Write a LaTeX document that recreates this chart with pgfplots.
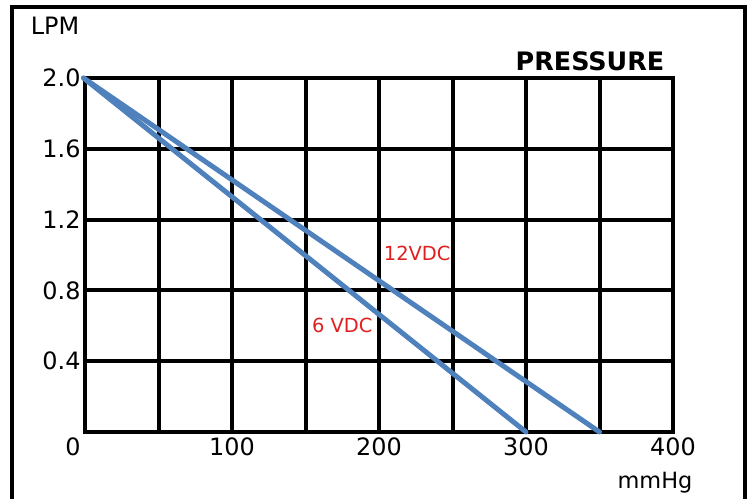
\documentclass[border=0pt]{standalone}
\usepackage{fontspec}
\setmainfont{DejaVu Sans}
\usepackage{pgfplots}
\pgfplotsset{compat=1.18}
\definecolor{lineblue}{HTML}{4F81BD}
\definecolor{labred}{HTML}{E02020}
\begin{document}
\begin{tikzpicture}
\clip (-85bp,-67bp) rectangle (666bp,432bp);
\fill[white] (-85bp,-67bp) rectangle (666bp,432bp);
\draw[line width=4.5bp] (-73bp,-100bp) -- (-73bp,425bp) -- (660bp,425bp) -- (660bp,-100bp);
\begin{axis}[
  at={(0,0)}, anchor=south west,
  scale only axis, width=588bp, height=354bp,
  xmin=0, xmax=400, ymin=0, ymax=2,
  /pgf/number format/assume math mode=true,
  axis line style={line width=4bp, black},
  grid=major, grid style={black, line width=4bp},
  major tick length=0pt,
  xtick={50,100,...,400},
  xticklabels={,100,,200,,300,,400},
  extra x ticks={0}, extra x tick labels={0},
  extra x tick style={grid=none, xticklabel style={xshift=-12bp}},
  ytick={0.4,0.8,1.2,1.6,2.0},
  yticklabels={0.4,0.8,1.2,1.6,2.0},
  tick label style={font=\fontsize{24}{27}\selectfont},
  xticklabel style={yshift=-2bp},
  yticklabel style={xshift=-1bp},
  clip=false,
]
\addplot[lineblue, line width=5bp, line cap=round] coordinates {(-1,2.0) (350,0)};
\addplot[lineblue, line width=5bp, line cap=round] coordinates {(-1,2.0) (300,0)};
\node[labred, font=\fontsize{19.5}{22}\selectfont] at (axis cs:226,1.01) {12VDC};
\node[labred, font=\fontsize{19.5}{22}\selectfont] at (axis cs:175,0.60) {6 VDC};
\end{axis}
\node[font=\fontsize{24}{27}\selectfont] at (-30bp,406bp) {LPM};
\node[font=\fontsize{25.5}{28}\selectfont\bfseries] at (505bp,371bp) {PRESSURE};
\node[font=\fontsize{22.5}{26}\selectfont] at (570bp,-51bp) {mmHg};
\end{tikzpicture}
\end{document}
